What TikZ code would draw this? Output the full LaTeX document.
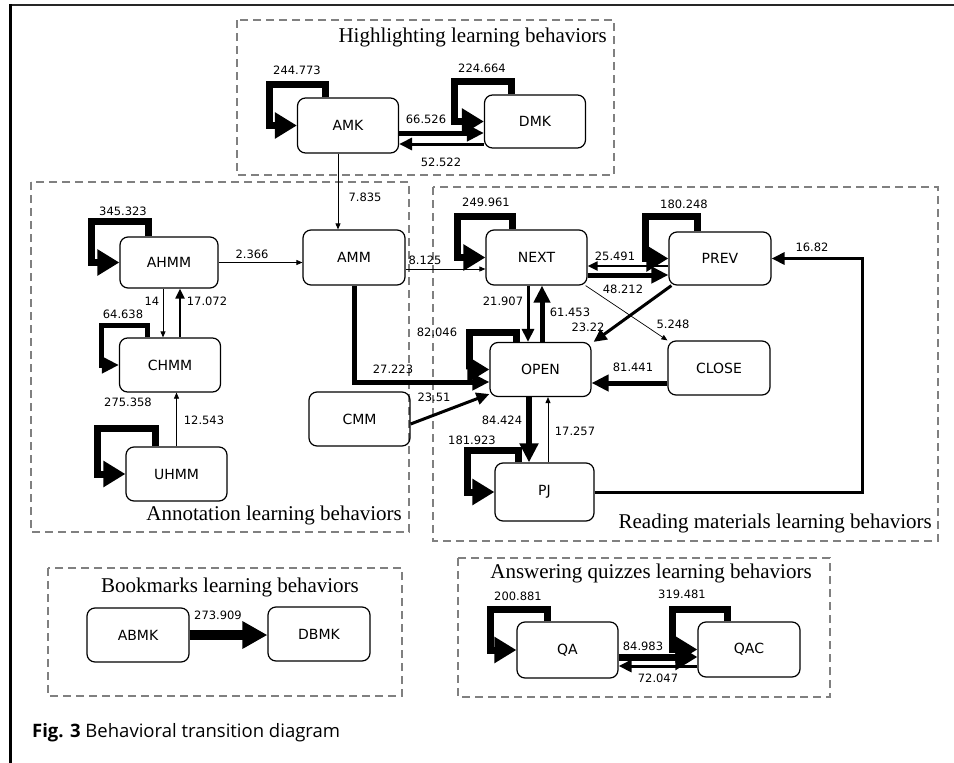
\documentclass[tikz,border=0pt]{standalone}
\usepackage{fontspec}
\setmainfont{DejaVu Sans}
\newfontfamily\titlefont{Liberation Serif}
\newfontfamily\capfont{Open Sans}
\usetikzlibrary{arrows.meta,calc}
\begin{document}
\begin{tikzpicture}[x=1pt,y=-1pt,
  state/.style={draw, line width=1.2pt, rounded corners=8pt, minimum width=101pt,
    minimum height=54pt, inner sep=0pt, font=\fontsize{14}{14}\selectfont},
  wt/.style={font=\fontsize{11.5}{11.5}\selectfont, inner sep=0pt},
  grp/.style={draw=black!50, line width=1.1pt, dash pattern=on 8pt off 5pt},
  gtitle/.style={font=\titlefont\fontsize{21}{21}\selectfont, inner sep=0pt},
  e1/.style={line width=0.7pt, -{Triangle[length=6pt,width=5pt]}},
  e2/.style={line width=2pt, -{Triangle[length=10pt,width=9pt]}},
  e3/.style={line width=3pt, -{Triangle[length=13pt,width=12pt]}},
  e5/.style={line width=5pt, -{Triangle[length=17pt,width=16pt]}},
  e6/.style={line width=6pt, -{Triangle[length=19pt,width=18pt]}},
  e7/.style={line width=7pt, -{Triangle[length=22pt,width=25pt]}},
  e10/.style={line width=10pt, -{Triangle[length=25pt,width=26pt]}}
]
\useasboundingbox (0,0) rectangle (954,763);

% page frame
\draw[line width=2pt, black!85] (9,5) -- (954,5);
\draw[line width=3pt] (10.5,4) -- (10.5,763);

% behaviour groups
\draw[grp] (237,20) rectangle (614,175);
\draw[grp] (31,182) rectangle (409,532);
\draw[grp] (433,187) rectangle (938,541);
\draw[grp] (48,568) rectangle (402,696);
\draw[grp] (458,558) rectangle (830,697);

\node[gtitle, anchor=base east] (tHigh) at (607,42) {Highlighting learning behaviors};
\node[gtitle, anchor=base east] (tAnno) at (402,520) {Annotation learning behaviors};
\node[gtitle, anchor=base east] (tRead) at (932,528) {Reading materials learning behaviors};
\node[gtitle, anchor=base] (tBook) at (230,592) {Bookmarks learning behaviors};
\node[gtitle, anchor=base] (tQuiz) at (651,578) {Answering quizzes learning behaviors};

% states
\node[state, minimum height=55pt] (AMK) at (348,125.5) {AMK};
\node[state, minimum height=53pt] (DMK) at (535,121.5) {DMK};
\node[state, minimum width=98pt, minimum height=51pt] (AHMM) at (169,262.5) {AHMM};
\node[state] (CHMM) at (170,365) {CHMM};
\node[state] (UHMM) at (176.5,474) {UHMM};
\node[state, minimum width=102pt, minimum height=55pt] (AMM) at (354,257.5) {AMM};
\node[state] (CMM) at (359.5,419) {CMM};
\node[state, minimum height=55pt] (NEXT) at (536.5,257.5) {NEXT};
\node[state, minimum width=102pt, minimum height=53pt] (PREV) at (720,258.5) {PREV};
\node[state] (OPEN) at (540.5,369.5) {OPEN};
\node[state, minimum width=102pt] (CLOSE) at (719,368) {CLOSE};
\node[state, minimum width=99pt, minimum height=58pt] (PJ) at (544.5,492) {PJ};
\node[state, minimum width=102pt] (ABMK) at (138,635) {ABMK};
\node[state, minimum width=102pt] (DBMK) at (319,634) {DBMK};
\node[state, minimum height=56pt] (QA) at (567.5,650) {QA};
\node[state, minimum width=102pt, minimum height=55pt] (QAC) at (749,649.5) {QAC};

\coordinate (pjturn) at (862,258.5);

% highlighting
\draw[e7] ([xshift=-23pt]AMK.north) -- ++(0,-13) -- ++(-56,0) |- (AMK.west);
\draw[e7] ([xshift=-24pt]DMK.north) -- ++(0,-13) -- ++(-57,0) |- (DMK.west);
\draw[e5] ([yshift=-7.5pt]AMK.east) -- ([yshift=-7.5pt]AMK.east -| DMK.west);
\draw[e3] ([yshift=-18.5pt]AMK.east -| DMK.west) -- ([yshift=-18.5pt]AMK.east);
\draw[e1] ([xshift=-10pt]AMK.south) -- ([xshift=-10pt]AMK.south |- AMM.north);

% annotation
\draw[e7] ([xshift=-21pt]AHMM.north) -- ++(0,-15) -- ++(-57,0) |- (AHMM.west);
\draw[e5] ([xshift=-23pt]CHMM.north) -- ++(0,-12) -- ++(-46,0) |- (CHMM.west);
\draw[e7] ([xshift=-21.5pt]UHMM.north) -- ++(0,-18) -- ++(-58,0) |- (UHMM.west);
\draw[e1] (AHMM.east) -- (AHMM.east -| AMM.west);
\draw[e1] ([xshift=-6pt]AHMM.south) -- ([xshift=-6pt]AHMM.south |- CHMM.north);
\draw[e2] ([xshift=10pt]CHMM.north) -- ([xshift=10pt]CHMM.north |- AHMM.south);
\draw[e1] (UHMM.north) -- (UHMM.north |- CHMM.south);

% into reading materials
\draw[e1] ([yshift=-11.5pt]AMM.east) -- ([yshift=-11.5pt]AMM.east -| NEXT.west);
\draw[e5] (AMM.south) |- ([yshift=-12.5pt]OPEN.west);
\draw[e3] ([yshift=-5pt]CMM.east) -- ([yshift=-24.5pt]OPEN.west);

% reading materials
\draw[e7] ([xshift=-24.5pt]NEXT.north) -- ++(0,-13) -- ++(-55,0) |- (NEXT.west);
\draw[e7] ([xshift=-23pt]PREV.north) -- ++(0,-15) -- ++(-52,0) |- (PREV.west);
\draw[e7] ([xshift=-24.5pt]OPEN.north) -- ++(0,-9.5) -- ++(-47,0) |- (OPEN.west);
\draw[e7] ([xshift=-26.5pt]PJ.north) -- ++(0,-12) -- ++(-51,0) |- (PJ.west);
\draw[e2] ([yshift=-7.5pt]PREV.west) -- ([yshift=-7.5pt]PREV.west -| NEXT.east);
\draw[e5] ([yshift=-17.5pt]NEXT.east) -- ([yshift=-17.5pt]NEXT.east -| PREV.west);
\draw[e1] ([xshift=-2pt]NEXT.south east) -- (CLOSE.north west);
\draw[e3] ([xshift=3pt]PREV.south west) -- ([xshift=2pt]OPEN.north east);
\draw[e3] ([xshift=-8.5pt]NEXT.south) -- ([xshift=-8.5pt]NEXT.south |- OPEN.north);
\draw[e5] ([xshift=1.5pt]OPEN.north) -- ([xshift=1.5pt]OPEN.north |- NEXT.south);
\draw[e5] ([yshift=-15pt]CLOSE.west) -- ([yshift=-15pt]CLOSE.west -| OPEN.east);
\draw[e6] ([xshift=-11.5pt]OPEN.south) -- ([xshift=-11.5pt]OPEN.south |- PJ.north);
\draw[e1] ([xshift=3.5pt]PJ.north) -- ([xshift=3.5pt]PJ.north |- OPEN.south);
\draw[e3] (PJ.east) -| (pjturn) -- (PREV.east);

% bookmarks
\draw[e10] (ABMK.east) -- (ABMK.east -| DBMK.west);

% quizzes
\draw[e7] ([xshift=-20.5pt]QA.north) -- ++(0,-12) -- ++(-57,0) |- (QA.west);
\draw[e7] ([xshift=-22pt]QAC.north) -- ++(0,-12) -- ++(-55,0) |- (QAC.west);
\draw[e7] ([yshift=-7pt]QA.east) -- ([yshift=-7pt]QA.east -| QAC.west);
\draw[e3] ([yshift=-16pt]QA.east -| QAC.west) -- ([yshift=-16pt]QA.east);

% transition weights
\node[wt] (w1) at (297,70) {244.773};
\node[wt] (w2) at (482,68) {224.664};
\node[wt] (w3) at (426,119) {66.526};
\node[wt] (w4) at (441,162) {52.522};
\node[wt] (w5) at (365,197) {7.835};
\node[wt] (w6) at (123,211) {345.323};
\node[wt] (w7) at (252,254) {2.366};
\node[wt] (w8) at (152,301) {14};
\node[wt] (w9) at (207,301) {17.072};
\node[wt] (w10) at (123,314) {64.638};
\node[wt] (w11) at (128,402) {275.358};
\node[wt] (w12) at (204,420) {12.543};
\node[wt] (w13) at (425,260) {8.125};
\node[wt] (w14) at (393,369) {27.223};
\node[wt] (w15) at (434,397) {23.51};
\node[wt] (w16) at (486,202) {249.961};
\node[wt] (w17) at (684,204) {180.248};
\node[wt] (w18) at (615,256) {25.491};
\node[wt] (w19) at (623,289) {48.212};
\node[wt] (w20) at (503,301) {21.907};
\node[wt] (w21) at (570,312) {61.453};
\node[wt] (w22) at (588,327) {23.22};
\node[wt] (w23) at (673,324) {5.248};
\node[wt] (w24) at (437,332) {82.046};
\node[wt] (w25) at (633,367) {81.441};
\node[wt] (w26) at (812,247) {16.82};
\node[wt] (w27) at (502,420) {84.424};
\node[wt] (w28) at (575,431) {17.257};
\node[wt] (w29) at (472,440) {181.923};
\node[wt] (w30) at (218,615) {273.909};
\node[wt] (w31) at (518,596) {200.881};
\node[wt] (w32) at (682,594) {319.481};
\node[wt] (w33) at (643,646) {84.983};
\node[wt] (w34) at (658,678) {72.047};

% caption
\node[anchor=base west, inner sep=0pt, font=\capfont\fontsize{18.5}{18.5}\selectfont]
  (caption) at (32,737) {\textbf{Fig. 3} Behavioral transition diagram};
\end{tikzpicture}
\end{document}
